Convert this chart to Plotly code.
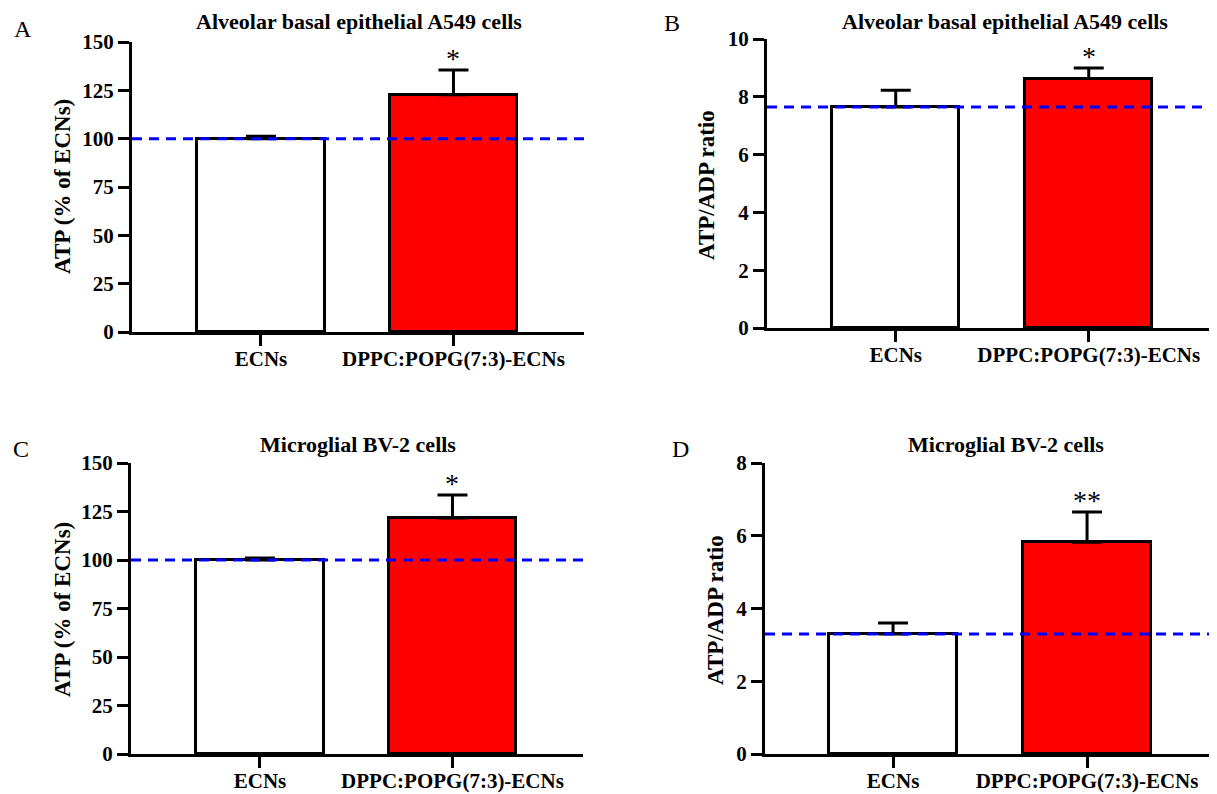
import plotly.graph_objects as go

# ---------------- data ----------------
categories = ["ECNs", "DPPC:POPG(7:3)-ECNs"]
panel_letters = ["A", "B", "C", "D"]
panel_titles = ["Alveolar basal epithelial A549 cells", "Alveolar basal epithelial A549 cells",
                "Microglial BV-2 cells", "Microglial BV-2 cells"]
y_titles = ["ATP (% of ECNs)", "ATP/ADP ratio", "ATP (% of ECNs)", "ATP/ADP ratio"]

a_values = [100.0, 122.7]
a_errors = [1.2, 12.8]
b_values = [7.65, 8.63]
b_errors = [0.58, 0.37]
c_values = [100.0, 121.6]
c_errors = [1.0, 11.9]
d_values = [3.30, 5.82]
d_errors = [0.30, 0.83]

significance = [["", "*"], ["", "*"], ["", "*"], ["", "**"]]
reference_lines = [100.0, 7.65, 100.0, 3.30]
y_ranges = [[0, 150], [0, 10], [0, 150], [0, 8]]
y_ticks = [[0, 25, 50, 75, 100, 125, 150], [0, 2, 4, 6, 8, 10],
           [0, 25, 50, 75, 100, 125, 150], [0, 2, 4, 6, 8]]
bar_colors = ["#FFFFFF", "#FF0000"]

values = [a_values, b_values, c_values, d_values]
errors = [a_errors, b_errors, c_errors, d_errors]

# ---------------- layout geometry (page pixels) ----------------
W, H = 1217, 794
OFF = 8  # default page body margin


def fx(px):
    return (px - OFF) / W


def fy(py):
    return 1 - (py - OFF) / H


# (x_left, x_right, y_top, y_bottom) in page pixels
boxes = [(132, 584, 42, 332), (767, W + OFF, 39, 328), (131, 583, 463, 754), (765, W + OFF, 463, 754)]
x_ranges = [[-0.67, 1.678], [-0.667, 1.706], [-0.67, 1.678], [-0.66, 1.711]]
letter_pos = [(23, 29), (672, 23), (21, 449), (680, 449)]
title_pos = [(359, 22), (1005, 22), (358, 444), (1006, 444)]
ytitle_pos = [(62, 187), (706, 185), (62, 610), (715, 610)]

FONT = "Liberation Serif"

fig = go.Figure()
annotations = []
shapes = []
layout_axes = {}

for i in range(4):
    xl, xr, yt, yb = boxes[i]
    sfx = "" if i == 0 else str(i + 1)
    xa, ya = "x" + sfx, "y" + sfx
    fig.add_trace(go.Bar(
        x=categories, y=values[i], xaxis=xa, yaxis=ya,
        width=0.66,
        marker=dict(color=bar_colors, line=dict(color="black", width=3)),
        error_y=dict(type="data", array=errors[i], arrayminus=[0, 0], symmetric=False,
                     color="black", thickness=3, width=15),
        showlegend=False, hoverinfo="skip",
    ))
    layout_axes["xaxis" + sfx] = dict(
        domain=[fx(xl), min(1.0, fx(xr))], anchor=ya, range=x_ranges[i], type="category",
        showline=True, linecolor="black", linewidth=3, ticks="outside", ticklen=11,
        tickwidth=3, tickcolor="black", showgrid=False, zeroline=False, automargin=False,
        ticklabelstandoff=-5,
        tickfont=dict(family=FONT, size=21, color="black", weight="bold"),
        fixedrange=True,
    )
    layout_axes["yaxis" + sfx] = dict(
        domain=[fy(yb), fy(yt)], anchor=xa, range=y_ranges[i],
        tickvals=y_ticks[i], showline=True, linecolor="black", linewidth=3,
        ticks="outside", ticklen=11, tickwidth=3, tickcolor="black",
        showgrid=False, zeroline=False, automargin=False,
        tickfont=dict(family=FONT, size=21, color="black", weight="bold"),
        fixedrange=True,
    )
    # dashed reference line
    shapes.append(dict(type="line", xref=xa + " domain", x0=0, x1=1, yref=ya,
                       y0=reference_lines[i], y1=reference_lines[i],
                       line=dict(color="#0000FF", width=3, dash="10px,7px"), layer="above"))
    # significance marks
    for j, s in enumerate(significance[i]):
        if s:
            annotations.append(dict(x=categories[j], y=values[i][j] + errors[i][j], xref=xa, yref=ya,
                                    text=s, showarrow=False, yanchor="bottom", yshift=-6,
                                    font=dict(family=FONT, size=28, color="black")))
    # panel letter
    lx, ly = letter_pos[i]
    annotations.append(dict(x=fx(lx), y=fy(ly), xref="paper", yref="paper", text=panel_letters[i],
                            showarrow=False, xanchor="center", yanchor="middle",
                            font=dict(family=FONT, size=24, color="black")))
    # panel title
    tx, ty = title_pos[i]
    annotations.append(dict(x=fx(tx), y=fy(ty), xref="paper", yref="paper", text=panel_titles[i],
                            showarrow=False, xanchor="center", yanchor="middle",
                            font=dict(family=FONT, size=22, color="black", weight="bold")))
    # y title
    yx, yy = ytitle_pos[i]
    annotations.append(dict(x=fx(yx), y=fy(yy), xref="paper", yref="paper", text=y_titles[i],
                            showarrow=False, xanchor="center", yanchor="middle", textangle=-90,
                            font=dict(family=FONT, size=23, color="black", weight="bold")))

fig.update_layout(
    template="none",
    width=W, height=H, margin=dict(l=0, r=0, t=0, b=0, autoexpand=False),
    paper_bgcolor="white", plot_bgcolor="white",
    annotations=annotations, shapes=shapes, bargap=0,
    **layout_axes,
)

fig.write_html("out.html")
